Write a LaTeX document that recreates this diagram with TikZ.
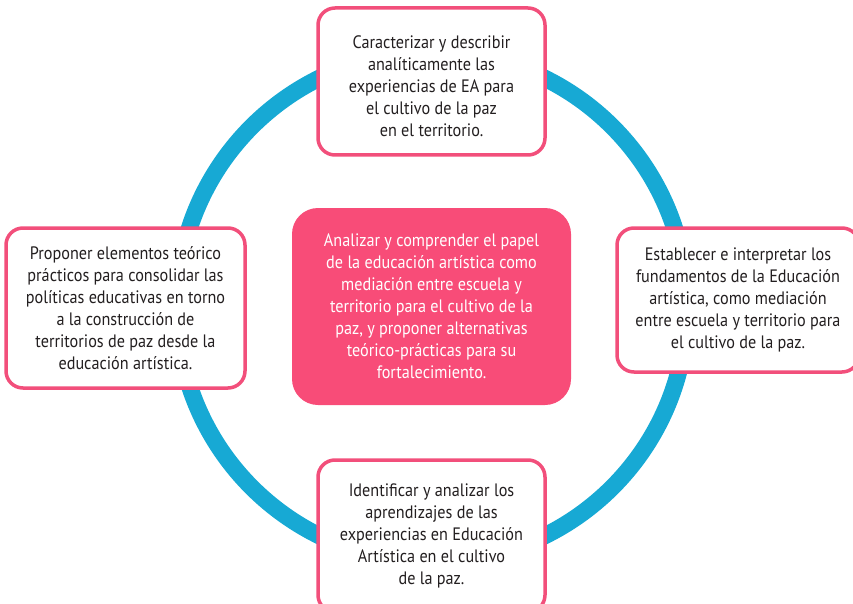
\documentclass[tikz,border=0pt]{standalone}
\usepackage{fontspec}
\setmainfont{PT Sans}[FakeStretch=0.9]
\usepackage{tikz}
\definecolor{ring-blue}{HTML}{17A9D4}
\definecolor{rose}{HTML}{F24F7B}
\definecolor{rose-fill}{HTML}{F84C78}
\definecolor{ink}{HTML}{231F20}
\tikzset{
    goal-box/.style = {draw=rose, fill=white, line width=3.5pt, rectangle, rounded corners=17pt, text=ink, align=center, inner sep=0pt, font=\fontsize{18}{22}\selectfont},
    aim-box/.style = {fill=rose-fill, rectangle, rounded corners=26pt, text=white, align=center, inner sep=0pt, font=\fontsize{18}{22}\selectfont},
}

\begin{document}
\begin{tikzpicture}[x=1pt,y=-1pt]
\useasboundingbox (0,0) rectangle (853,604);
\draw[ring-blue, line width=17pt] (432,307) circle (255pt);
\node[aim-box, minimum width=279pt, minimum height=197pt] (aim) at (431.5,306.5) {Analizar y comprender el papel\\de la educación artística como\\mediación entre escuela y\\territorio para el cultivo de la\\paz, y proponer alternativas\\teórico-prácticas para su\\fortalecimiento.};
\node[goal-box, minimum width=227pt, minimum height=147pt] (north) at (431.5,81.5) {\rule{0pt}{23pt}Caracterizar y describir\\analíticamente las\\experiencias de EA para\\el cultivo de la paz\\en el territorio.};
\node[goal-box, minimum width=242pt, minimum height=144pt] (east) at (738,300) {Establecer e interpretar los\\fundamentos de la Educación\\artística, como mediación\\entre escuela y territorio para\\el cultivo de la paz.};
\node[goal-box, minimum width=239pt, minimum height=160pt] (west) at (125.5,308) {Proponer elementos teórico\\prácticos para consolidar las\\políticas educativas en torno\\a la construcción de\\territorios de paz desde la\\educación artística.};
\node[goal-box, minimum width=227pt, minimum height=152pt] (south) at (431.5,536) {Identificar y analizar los\\aprendizajes de las\\experiencias en Educación\\Artística en el cultivo\\de la paz.};
\end{tikzpicture}
\end{document}
